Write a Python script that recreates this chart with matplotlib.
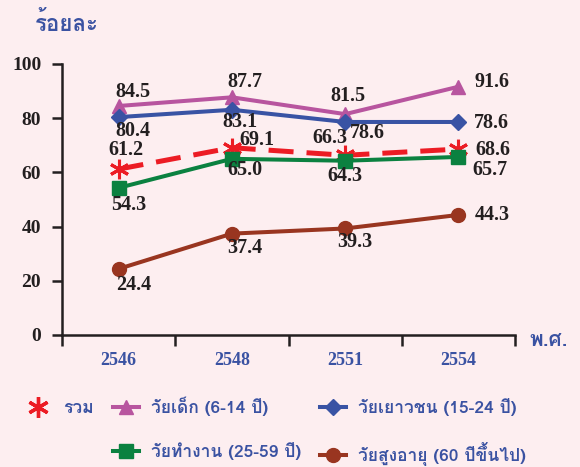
import matplotlib
matplotlib.use("Agg")
import matplotlib.pyplot as plt
from matplotlib import font_manager as fm
from matplotlib.ft2font import FT2Font
from matplotlib.lines import Line2D

# ---------------- data ----------------
years = ["2546", "2548", "2551", "2554"]
total = [61.2, 69.1, 66.3, 68.6]
child = [84.5, 87.7, 81.5, 91.6]
youth = [80.4, 83.1, 78.6, 78.6]
working = [54.3, 65.0, 64.3, 65.7]
elderly = [24.4, 37.4, 39.3, 44.3]
yticks = [0, 20, 40, 60, 80, 100]
name_total = "รวม"
name_child = "วัยเด็ก (6-14 ปี)"
name_youth = "วัยเยาวชน (15-24 ปี)"
name_working = "วัยทำงาน (25-59 ปี)"
name_elderly = "วัยสูงอายุ (60 ปีขึ้นไป)"
ylabel = "ร้อยละ"
xlabel = "พ.ศ."

# ---------------- fonts ----------------
thai_fams = []
for f in fm.fontManager.ttflist:
    try:
        if 0x0E01 in FT2Font(f.fname).get_charmap():
            if f.name not in thai_fams:
                thai_fams.append(f.name)
    except Exception:
        pass
THAI = thai_fams + ["DejaVu Sans"]
SERIF = ["Liberation Serif", "DejaVu Serif"]

BG = "#fdeef0"
BLUE_TXT = "#3a52a2"
C_PURPLE = "#b8559f"
C_BLUE = "#3953a4"
C_RED = "#ec1c24"
C_GREEN = "#0b8140"
C_BROWN = "#993520"
INK = "#231f20"

fig = plt.figure(figsize=(5.8, 4.67), dpi=100, facecolor=BG)
ax = fig.add_axes([0.107, 0.2827, 0.781, 0.5803], facecolor=BG)

x = list(range(len(years)))

series = [
    (child, C_PURPLE, "^", 10.5, "-", [(14, 14), (13, 15), (3, 18), (34, 5)]),
    (youth, C_BLUE, "D", 8.5, "-", [(14, -14), (8, -12), (22, -11), (33, -1)]),
    (total, C_RED, (6, 2, 0), 14, (0, (5, 2.6)), [(7, 19), (25, 8), (-15, 17), (34, -1)]),
    (working, C_GREEN, "s", 10, "-", [(10, -17), (13, -11), (0, -15), (32, -13)]),
    (elderly, C_BROWN, "o", 10, "-", [(15, -16), (13, -14), (10, -14), (34, 0)]),
]
for vals, col, mk, ms, ls, offs in series:
    lw = 3.6 if ls != "-" else 2.9
    ax.plot(x, vals, color=col, lw=lw, ls=ls, marker=mk, ms=ms,
            mew=2.2 if mk == (6, 2, 0) else 1, mec=col, mfc=col, clip_on=False,
            solid_capstyle="butt", dash_capstyle="butt")
    for xi, v, (dx, dy) in zip(x, vals, offs):
        ax.annotate(f"{v:.1f}", (xi, v), xytext=(dx, dy), textcoords="offset pixels",
                    ha="center", va="center", fontsize=14.5, fontweight="bold",
                    family=SERIF, color=INK)

ax.set_xlim(-0.5, 3.5)
ax.set_ylim(0, 100)
ax.set_yticks(yticks)
ax.set_yticklabels([str(t) for t in yticks], fontsize=14, fontweight="bold",
                   family=SERIF, color=INK)
ax.set_xticks([-0.5, 0.5, 1.5, 2.5, 3.5])
ax.set_xticklabels([])
ax.set_xticks(x, minor=True)
ax.set_xticklabels(years, minor=True, fontsize=13, fontweight="bold",
                   family=SERIF, color=BLUE_TXT)
ax.tick_params(axis="x", which="major", direction="out", length=8, width=1.8, color=INK)
ax.tick_params(axis="x", which="minor", length=0, pad=12)
ax.tick_params(axis="y", direction="out", length=7, width=1.8, color=INK, pad=8)
for s in ["top", "right"]:
    ax.spines[s].set_visible(False)
for s in ["left", "bottom"]:
    ax.spines[s].set_linewidth(1.8)
    ax.spines[s].set_color(INK)

fig.text(0.060, 0.950, ylabel, family=THAI, fontsize=16, fontweight="bold",
         color=BLUE_TXT, ha="left", va="center")
fig.text(0.912, 0.270, xlabel, family=THAI, fontsize=15, fontweight="bold",
         color=BLUE_TXT, ha="left", va="center")

handles = [
    Line2D([], [], color=C_RED, marker=(6, 2, 0), ms=15, mew=2.4, ls="none"),
    Line2D([], [], ls="none"),
    Line2D([], [], color=C_PURPLE, marker="^", ms=10.5, lw=2.9),
    Line2D([], [], color=C_GREEN, marker="s", ms=10, lw=2.9),
    Line2D([], [], color=C_BLUE, marker="D", ms=8.5, lw=2.9),
    Line2D([], [], color=C_BROWN, marker="o", ms=10, lw=2.9),
]
labels = [name_total, "", name_child, name_working, name_youth, name_elderly]
leg = fig.legend(handles, labels, ncol=3, loc="upper left", bbox_to_anchor=(0.043, 0.150),
                 frameon=False, handlelength=1.5, handletextpad=0.7, columnspacing=1.1,
                 labelspacing=1.5, prop=fm.FontProperties(family=THAI, size=12.5, weight="bold"),
                 borderaxespad=0, borderpad=0)
for t in leg.get_texts():
    t.set_color(BLUE_TXT)

fig.savefig("out.png", dpi=100, facecolor=BG)
